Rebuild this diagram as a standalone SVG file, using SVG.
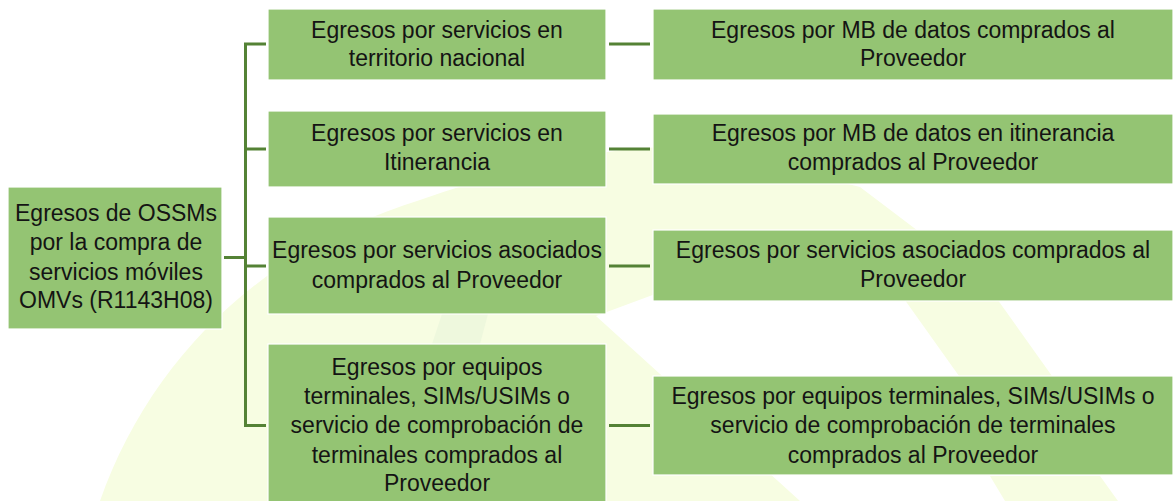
<svg xmlns="http://www.w3.org/2000/svg" width="1173" height="501" viewBox="0 0 1173 501">
<style>
.box{fill:#94C473;stroke:#ffffff;stroke-width:1.2}
.t{font-family:"Liberation Sans",Arial,sans-serif;font-size:23px;fill:#141414;text-anchor:middle}
.c{stroke:#548235;stroke-width:3;fill:none}
.wm{fill:#f7fde2}
.wm2{fill:#eef8dd}
</style>
<rect width="1173" height="501" fill="#ffffff"/>
<g id="watermark">
<path class="wm" d="M 100 501 C 150 360 260 250 420 200 C 520 165 600 146 700 146 L 860 187 L 930 240 L 720 270 L 596 316 L 800 501 Z"/>
<polygon class="wm" points="855,230 948,230 1052,376 959,376"/>
<polygon class="wm" points="990,476 1100,476 1118,501 1005,501"/>
<polygon class="wm2" points="442,314 488,314 480,344 432,344"/>
</g>
<g id="connectors">
<path class="c" d="M 224 257.5 H 245.5"/>
<path class="c" d="M 266 44 H 245.5 V 425.5 H 266"/>
<path class="c" d="M 245.5 149 H 266"/>
<path class="c" d="M 245.5 266 H 266"/>
<path class="c" d="M 609 44 H 650"/>
<path class="c" d="M 609 149 H 650"/>
<path class="c" d="M 609 266 H 650"/>
<path class="c" d="M 609 425.5 H 650"/>
</g>
<g id="root">
<rect class="box" x="8" y="187" width="214" height="142"/>
<text class="t" x="116" y="221">Egresos de OSSMs</text>
<text class="t" x="116" y="250">por la compra de</text>
<text class="t" x="116" y="280">servicios móviles</text>
<text class="t" x="116" y="308">OMVs (R1143H08)</text>
</g>
<g id="mid1">
<rect class="box" x="268" y="9" width="338" height="71"/>
<text class="t" x="437" y="38">Egresos por servicios en</text>
<text class="t" x="437" y="66">territorio nacional</text>
</g>
<g id="mid2">
<rect class="box" x="268" y="111" width="338" height="76"/>
<text class="t" x="437" y="141">Egresos por servicios en</text>
<text class="t" x="437" y="170">Itinerancia</text>
</g>
<g id="mid3">
<rect class="box" x="268" y="217" width="338" height="97"/>
<text class="t" x="437" y="258">Egresos por servicios asociados</text>
<text class="t" x="437" y="288">comprados al Proveedor</text>
</g>
<g id="mid4">
<rect class="box" x="268" y="344" width="338" height="160"/>
<text class="t" x="437" y="375">Egresos por equipos</text>
<text class="t" x="437" y="404">terminales, SIMs/USIMs o</text>
<text class="t" x="437" y="433">servicio de comprobación de</text>
<text class="t" x="437" y="463">terminales comprados al</text>
<text class="t" x="437" y="491">Proveedor</text>
</g>
<g id="right1">
<rect class="box" x="653" y="9" width="520" height="71"/>
<text class="t" x="913" y="38">Egresos por MB de datos comprados al</text>
<text class="t" x="913" y="66">Proveedor</text>
</g>
<g id="right2">
<rect class="box" x="653" y="114" width="520" height="70"/>
<text class="t" x="913" y="141">Egresos por MB de datos en itinerancia</text>
<text class="t" x="913" y="170">comprados al Proveedor</text>
</g>
<g id="right3">
<rect class="box" x="653" y="230" width="520" height="71"/>
<text class="t" x="913" y="258">Egresos por servicios asociados comprados al</text>
<text class="t" x="913" y="287">Proveedor</text>
</g>
<g id="right4">
<rect class="box" x="653" y="376" width="520" height="99"/>
<text class="t" x="913" y="404">Egresos por equipos terminales, SIMs/USIMs o</text>
<text class="t" x="913" y="433">servicio de comprobación de terminales</text>
<text class="t" x="913" y="463">comprados al Proveedor</text>
</g>
</svg>
